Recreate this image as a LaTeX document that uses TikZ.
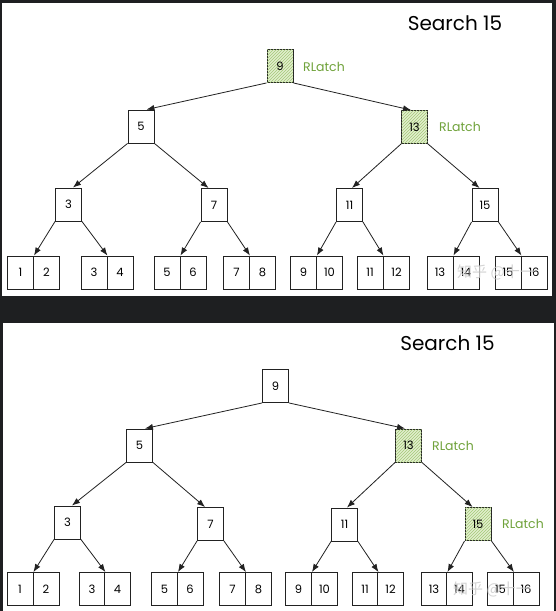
\documentclass[tikz,border=0pt]{standalone}
\usepackage{fontspec}
\setmainfont{Poppins}
\newfontfamily\cjk{Noto Sans CJK SC}
\usetikzlibrary{arrows.meta,patterns}
\definecolor{bgdark}{HTML}{1E1F21}
\definecolor{ink}{HTML}{222222}
\definecolor{latchgreen}{HTML}{6FA23A}
\definecolor{latchfill}{HTML}{E2EFCD}
\definecolor{hatch}{HTML}{A3C878}
\begin{document}
\begin{tikzpicture}[x=1pt,y=-1pt,
  box/.style={draw=ink, line width=0.9pt, minimum width=26pt, minimum height=33pt, inner sep=0pt, font=\fontsize{11.5}{11.5}\selectfont, fill=white},
  latched/.style={box, fill=latchfill, postaction={pattern=north east lines, pattern color=hatch}},
  edge/.style={draw=ink, line width=0.8pt, -{Latex[length=8pt,width=6pt]}},
  latch/.style={text=latchgreen, anchor=west, inner sep=0pt, font=\fontsize{12.5}{12.5}\selectfont},
  title/.style={font=\fontsize{20}{20}\selectfont, text=black, inner sep=0pt},
  wm/.style={font=\cjk\fontsize{15}{15}\selectfont, text=gray!40, opacity=0.85, inner sep=0pt}
]
\useasboundingbox (0,0) rectangle (556,611);
\fill[bgdark] (0,0) rectangle (556,611);
\fill[white] (2,3) rectangle (552,296);
\fill[white] (3,323) rectangle (554,611);

% ---------- top panel ----------
\node[title] (ta) at (455,23.5) {Search 15};
\node[latched] (a9) at (280,66) {9};
\node[latch] (ar1) at (303,67) {RLatch};
\node[box] (an5) at (141,126.5) {5};
\node[latched] (an13) at (414.5,127) {13};
\node[latch] (ar2) at (439,127) {RLatch};
\node[box] (an3) at (68.5,204.5) {3};
\node[box] (an7) at (214,205) {7};
\node[box] (an11) at (349.5,205) {11};
\node[box] (an15) at (485,205) {15};
\foreach \v/\x in {1/20.5,2/46.5,3/94,4/120,5/167,6/193,7/236.5,8/262.5,9/303.5,10/329.5,11/370,12/396.5,13/440,14/466,15/508,16/534}
  \node[box] (al\v) at (\x,272.5) {\v};

\draw[edge] (a9.south west) -- ([xshift=-8pt]an5.north east);
\draw[edge] (a9.south east) -- ([xshift=10pt]an13.north west);
\draw[edge] (an5.south west) -- ([xshift=-9pt]an3.north east);
\draw[edge] (an5.south east) -- ([xshift=8pt]an7.north west);
\draw[edge] (an13.south west) -- ([xshift=-11pt]an11.north east);
\draw[edge] (an13.south east) -- ([xshift=8pt]an15.north west);
\draw[edge] (an3.south west) -- (al1.north east);
\draw[edge] (an3.south east) -- (al3.north east);
\draw[edge] (an7.south west) -- (al5.north east);
\draw[edge] (an7.south east) -- (al7.north east);
\draw[edge] (an11.south west) -- (al9.north east);
\draw[edge] (an11.south east) -- (al11.north east);
\draw[edge] (an15.south west) -- (al13.north east);
\draw[edge] (an15.south east) -- (al15.north east);
\node[wm] (aw) at (496,272) {知乎 @十一};

% ---------- bottom panel ----------
\node[title] (tb) at (447.5,343.5) {Search 15};
\node[box] (b9) at (275.5,386) {9};
\node[box] (bn5) at (139.5,445.5) {5};
\node[latched] (bn13) at (408.5,445.5) {13};
\node[latch] (br1) at (432,446) {RLatch};
\node[box] (bn3) at (67.5,522.5) {3};
\node[box] (bn7) at (210.5,524) {7};
\node[box] (bn11) at (344.5,524.5) {11};
\node[latched] (bn15) at (478,524) {15};
\node[latch] (br2) at (502,524) {RLatch};
\foreach \v/\x in {1/20,2/46,3/92,4/117.5,5/164.5,6/190,7/232.5,8/258.5,9/298.5,10/324.5,11/365,12/390.5,13/434,14/459.5,15/500.5,16/526}
  \node[box] (bl\v) at (\x,589) {\v};

\draw[edge] (b9.south west) -- ([xshift=-8pt]bn5.north east);
\draw[edge] (b9.south east) -- ([xshift=10pt]bn13.north west);
\draw[edge] (bn5.south west) -- ([xshift=-9pt]bn3.north east);
\draw[edge] (bn5.south east) -- ([xshift=8pt]bn7.north west);
\draw[edge] (bn13.south west) -- ([xshift=-11pt]bn11.north east);
\draw[edge] (bn13.south east) -- ([xshift=8pt]bn15.north west);
\draw[edge] (bn3.south west) -- (bl1.north east);
\draw[edge] (bn3.south east) -- (bl3.north east);
\draw[edge] (bn7.south west) -- (bl5.north east);
\draw[edge] (bn7.south east) -- (bl7.north east);
\draw[edge] (bn11.south west) -- (bl9.north east);
\draw[edge] (bn11.south east) -- (bl11.north east);
\draw[edge] (bn15.south west) -- (bl13.north east);
\draw[edge] (bn15.south east) -- (bl15.north east);
\node[wm] (bw) at (492,589) {知乎 @十一};
\end{tikzpicture}
\end{document}
